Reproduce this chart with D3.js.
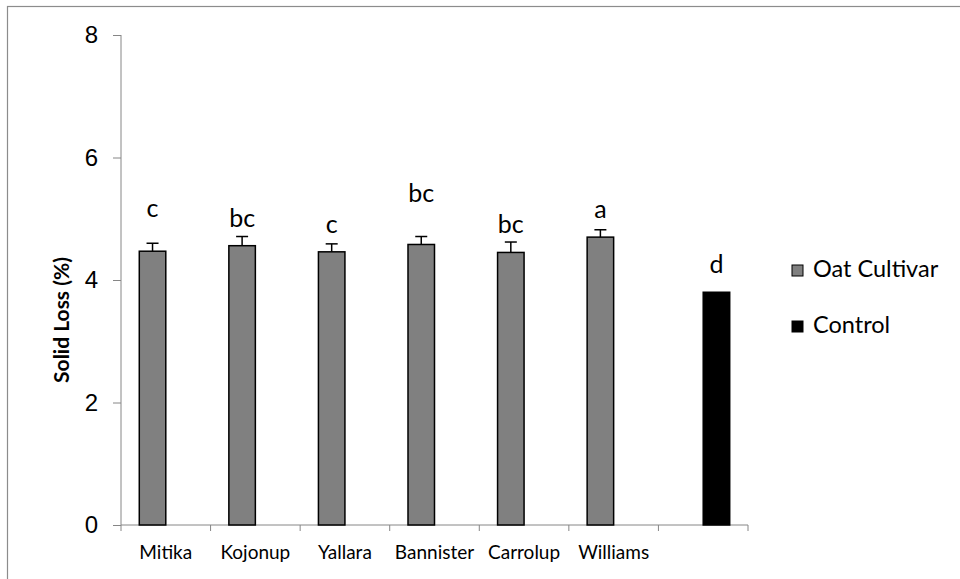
<!DOCTYPE html>
<html>
<head>
<meta charset="utf-8">
<script src="https://cdn.jsdelivr.net/npm/d3@7"></script>
<style>
  body { margin: 0; background: #fff; }
  svg { display: block; font-family: Lato, "Open Sans", sans-serif; }
</style>
</head>
<body>
<div id="chart"></div>
<script>
// chart size
const width = 960;
const height = 579;

// data
const categories = ["Mitika", "Kojonup", "Yallara", "Bannister", "Carrolup", "Williams", ""];
const oatValues = [4.47, 4.56, 4.46, 4.58, 4.45, 4.70, null];
const oatErrors = [0.13, 0.15, 0.13, 0.13, 0.17, 0.12, null];
const controlValues = [null, null, null, null, null, null, 3.80];
const letters = ["c", "bc", "c", "bc", "bc", "a", "d"];
// where each letter sits (its baseline, in y units)
const letterY = [5.03, 4.86, 4.76, 5.28, 4.76, 5.02, 4.11];
const seriesNames = ["Oat Cultivar", "Control"];
const seriesColors = ["#808080", "#000000"];
const yTicks = [0, 2, 4, 6, 8];

const margin = { left: 121, right: 212, top: 35, bottom: 54 };

const svg = d3.select("#chart")
    .append("svg")
    .attr("width", width)
    .attr("height", height);

// outer chart border (only top and left show in the frame)
svg.append("rect")
    .attr("x", 7.5).attr("y", 6.5)
    .attr("width", 1000).attr("height", 600)
    .attr("fill", "none")
    .attr("stroke", "#8c8c8c")
    .attr("stroke-width", 1.2);

const x = d3.scaleBand()
    .domain(categories.map((c, i) => i))
    .range([margin.left, width - margin.right]);

// inner band for the two series, excel style clustering
const xSeries = d3.scaleBand()
    .domain([0, 1])
    .range([0, x.bandwidth()])
    .paddingInner(0)
    .paddingOuter(0.69);

const y = d3.scaleLinear()
    .domain([0, 8])
    .range([height - margin.bottom, margin.top]);

const axisColor = "#868686";

// y axis
const yAxis = svg.append("g")
    .attr("transform", `translate(${margin.left},0)`)
    .call(d3.axisLeft(y).tickValues(yTicks).tickSize(8).tickPadding(15).tickFormat(d3.format("d")));
yAxis.select(".domain").attr("stroke", axisColor).attr("d", `M0,${y(8)}V${y(0)}`);
yAxis.selectAll(".tick line").attr("stroke", axisColor);
yAxis.selectAll(".tick text")
    .attr("fill", "#000")
    .style("font-size", "24px");

// x axis, ticks between categories
const xAxisG = svg.append("g")
    .attr("transform", `translate(0,${y(0)})`);
xAxisG.append("line")
    .attr("x1", margin.left).attr("x2", width - margin.right)
    .attr("stroke", axisColor);
xAxisG.selectAll(".sep")
    .data(categories.map((c, i) => i).concat([categories.length]))
    .enter().append("line")
    .attr("class", "sep")
    .attr("x1", d => d < categories.length ? x(d) : x(d - 1) + x.bandwidth())
    .attr("x2", d => d < categories.length ? x(d) : x(d - 1) + x.bandwidth())
    .attr("y1", 0).attr("y2", 6)
    .attr("stroke", axisColor);
xAxisG.selectAll(".lab")
    .data(categories)
    .enter().append("text")
    .attr("class", "lab")
    .attr("x", (d, i) => x(i) + x.bandwidth() / 2)
    .attr("y", 34)
    .attr("text-anchor", "middle")
    .style("font-size", "19px")
    .text(d => d);

// bars
const barData = [];
categories.forEach(function (c, i) {
    if (oatValues[i] != null) barData.push({ i: i, s: 0, v: oatValues[i], e: oatErrors[i] });
    if (controlValues[i] != null) barData.push({ i: i, s: 1, v: controlValues[i], e: null });
});

svg.selectAll(".bar")
    .data(barData)
    .enter().append("rect")
    .attr("class", "bar")
    .attr("x", d => x(d.i) + xSeries(d.s))
    .attr("y", d => y(d.v))
    .attr("width", xSeries.bandwidth())
    .attr("height", d => y(0) - y(d.v))
    .attr("fill", d => seriesColors[d.s])
    .attr("stroke", "#000")
    .attr("stroke-width", 1.5);

// error bars (plus side only)
const errs = svg.selectAll(".err")
    .data(barData.filter(d => d.e != null))
    .enter().append("g")
    .attr("class", "err")
    .attr("stroke", "#000")
    .attr("stroke-width", 1.5);
errs.append("line")
    .attr("x1", d => x(d.i) + xSeries(d.s) + xSeries.bandwidth() / 2)
    .attr("x2", d => x(d.i) + xSeries(d.s) + xSeries.bandwidth() / 2)
    .attr("y1", d => y(d.v))
    .attr("y2", d => y(d.v + d.e));
errs.append("line")
    .attr("x1", d => x(d.i) + xSeries(d.s) + xSeries.bandwidth() / 2 - 6)
    .attr("x2", d => x(d.i) + xSeries(d.s) + xSeries.bandwidth() / 2 + 6)
    .attr("y1", d => y(d.v + d.e))
    .attr("y2", d => y(d.v + d.e));

// significance letters
svg.selectAll(".letter")
    .data(letters)
    .enter().append("text")
    .attr("class", "letter")
    .attr("x", (d, i) => x(i) + xSeries(i === 6 ? 1 : 0) + xSeries.bandwidth() / 2)
    .attr("y", (d, i) => y(letterY[i]))
    .attr("text-anchor", "middle")
    .style("font-size", "25px")
    .text(d => d);

// y axis title
svg.append("text")
    .attr("transform", `translate(69,${(y(0) + y(8)) / 2 + 40}) rotate(-90)`)
    .attr("text-anchor", "middle")
    .style("font-size", "21px")
    .style("font-weight", "bold")
    .text("Solid Loss (%)");

// legend
const legend = svg.selectAll(".legend")
    .data(seriesNames)
    .enter().append("g")
    .attr("class", "legend")
    .attr("transform", (d, i) => `translate(792,${277 + i * 56})`);
legend.append("rect")
    .attr("x", 0).attr("y", -12)
    .attr("width", 11).attr("height", 11)
    .attr("fill", (d, i) => seriesColors[i])
    .attr("stroke", "#000")
    .attr("stroke-width", 1);
legend.append("text")
    .attr("x", 21).attr("y", 0)
    .style("font-size", "23.5px")
    .text(d => d);
</script>
</body>
</html>
